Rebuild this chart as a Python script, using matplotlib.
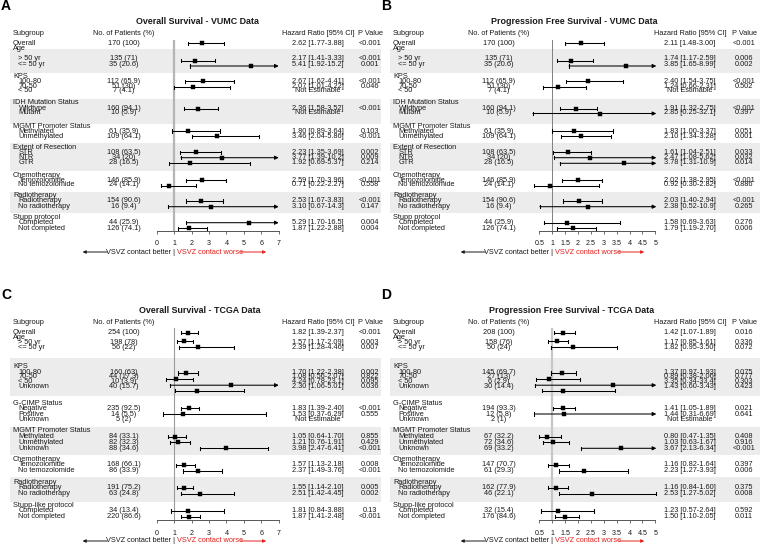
import numpy as np
import matplotlib
matplotlib.use("Agg")
import matplotlib.pyplot as plt
from matplotlib.patches import Rectangle

nan = np.nan

# ---------------- data ----------------
VUMC_groups = ["Overall", "Age", "KPS", "IDH Mutation Status", "MGMT Promoter Status",
               "Extent of Resection", "Chemotherapy", "Radiotherapy", "Stupp protocol"]
VUMC_subs = [[], ["> 50 yr", "<= 50 yr"], ["100-80", "70-50", "< 50"], ["Wildtype", "Mutant"],
             ["Methylated", "Unmethylated"], ["STR", "NTR", "GTR"],
             ["Temozolomide", "No temozolomide"], ["Radiotherapy", "No radiotherapy"],
             ["Completed", "Not completed"]]
VUMC_n = ["170 (100)", "135 (71)", "35 (20.6)", "112 (65.9)", "51 (30)", "7 (4.1)",
          "160 (94.1)", "10 (5.9)", "61 (35.9)", "109 (64.1)", "108 (63.5)", "34 (20)",
          "28 (16.5)", "146 (85.9)", "24 (14.1)", "154 (90.6)", "16 (9.4)", "44 (25.9)",
          "126 (74.1)"]

A_est = [2.62, 2.17, 5.41, 2.67, 2.07, nan, 2.36, nan, 1.80, 3.46, 2.23, 3.77, 1.92, 2.59, 0.71, 2.53, 3.10, 5.29, 1.87]
A_lo = [1.77, 1.41, 1.92, 1.62, 1.01, nan, 1.58, nan, 0.89, 2.04, 1.35, 1.39, 0.69, 1.70, 0.22, 1.67, 0.67, 1.70, 1.22]
A_hi = [3.88, 3.33, 15.2, 4.41, 4.22, nan, 3.52, nan, 3.64, 5.86, 3.69, 10.2, 5.37, 3.96, 2.27, 3.83, 14.3, 16.5, 2.88]
A_p = ["<0.001", "<0.001", "0.001", "<0.001", "0.046", "", "<0.001", "", "0.103", "<0.001",
       "0.002", "0.009", "0.214", "<0.001", "0.558", "<0.001", "0.147", "0.004", "0.004"]

B_est = [2.11, 1.74, 3.85, 2.40, 1.24, nan, 1.91, 2.85, 1.83, 2.10, 1.61, 2.47, 3.78, 2.02, 0.92, 2.03, 2.38, 1.58, 1.79]
B_lo = [1.48, 1.17, 1.65, 1.54, 0.66, nan, 1.32, 0.25, 1.00, 1.34, 1.04, 1.08, 1.31, 1.38, 0.30, 1.40, 0.52, 0.69, 1.19]
B_hi = [3.00, 2.59, 8.99, 3.75, 2.31, nan, 2.75, 32.1, 3.37, 3.28, 2.51, 5.62, 10.9, 2.95, 2.82, 2.94, 10.9, 3.63, 2.70]
B_p = ["<0.001", "0.006", "0.002", "<0.001", "0.502", "", "<0.001", "0.397", "0.051", "0.001",
       "0.033", "0.032", "0.014", "<0.001", "0.886", "<0.001", "0.265", "0.276", "0.006"]

TCGA_groups = ["Overall", "Age", "KPS", "G-CIMP Status", "MGMT Promoter Status",
               "Chemotherapy", "Radiotherapy", "Stupp-like protocol"]
TCGA_subs = [[], ["> 50 yr", "<= 50 yr"], ["100-80", "70-50", "< 50", "Unknown"],
             ["Negative", "Positive", "Unknown"], ["Methylated", "Unmethylated", "Unknown"],
             ["Temozolomide", "No temozolomide"], ["Radiotherapy", "No radiotherapy"],
             ["Completed", "Not completed"]]

C_n = ["254 (100)", "198 (78)", "56 (22)", "160 (63)", "44 (17.3)", "10 (3.9)", "40 (15.7)",
       "235 (92.5)", "14 (5.5)", "5 (2)", "84 (33.1)", "82 (32.3)", "88 (34.6)", "168 (66.1)",
       "86 (33.9)", "191 (75.2)", "63 (24.8)", "34 (13.4)", "220 (86.6)"]
C_est = [1.82, 1.57, 2.39, 1.70, 1.08, 4.24, 2.30, 1.83, 1.53, nan, 1.05, 1.21, 3.98, 1.57, 2.37, 1.55, 2.51, 1.81, 1.87]
C_lo = [1.39, 1.17, 1.28, 1.22, 0.56, 0.78, 1.06, 1.39, 0.37, nan, 0.64, 0.76, 2.47, 1.13, 1.49, 1.14, 1.42, 0.84, 1.41]
C_hi = [2.37, 2.09, 4.46, 2.38, 2.07, 23.1, 5.01, 2.40, 6.29, nan, 1.70, 1.91, 6.41, 2.18, 3.76, 2.10, 4.45, 3.88, 2.48]
C_p = ["<0.001", "0.003", "0.007", "0.002", "0.822", "0.095", "0.036", "<0.001", "0.555", "",
       "0.855", "0.429", "<0.001", "0.008", "<0.001", "0.005", "0.002", "0.13", "<0.001"]

D_n = ["208 (100)", "158 (76)", "50 (24)", "145 (69.7)", "27 (13)", "6 (2.9)", "30 (14.4)",
       "194 (93.3)", "12 (5.8)", "2 (1)", "67 (32.2)", "72 (34.6)", "69 (33.2)", "147 (70.7)",
       "61 (29.3)", "162 (77.9)", "46 (22.1)", "32 (15.4)", "176 (84.6)"]
D_est = [1.42, 1.17, 1.82, 1.37, 0.89, 3.35, 1.43, 1.41, 1.44, nan, 0.80, 1.03, 3.67, 1.16, 2.23, 1.16, 2.53, 1.23, 1.50]
D_lo = [1.07, 0.85, 0.95, 0.97, 0.38, 0.34, 0.60, 1.05, 0.31, nan, 0.47, 0.63, 2.13, 0.82, 1.27, 0.84, 1.27, 0.57, 1.10]
D_hi = [1.89, 1.61, 3.50, 1.93, 2.06, 33.4, 3.43, 1.89, 6.69, nan, 1.35, 1.67, 6.34, 1.64, 3.93, 1.60, 5.02, 2.64, 2.05]
D_p = ["0.016", "0.336", "0.072", "0.075", "0.777", "0.303", "0.423", "0.021", "0.641", "",
       "0.408", "0.916", "<0.001", "0.397", "0.006", "0.375", "0.008", "0.592", "0.011"]

A_ticks = [0, 1, 2, 3, 4, 5, 6, 7]
B_ticks = [0.5, 1, 1.5, 2, 2.5, 3, 3.5, 4, 4.5, 5]

# ---------------- layout (pixels) ----------------
LAY_VUMC = dict(
    letter_y=6, title_y=21, head_y=33.3, ref_top=40, axis_y=230.7, note_y=252,
    txt_y=[43.3, 59.0, 65.0, 81.3, 86.0, 90.5, 108.0, 112.7, 131.5, 136.3, 152.5, 157.5,
           162.7, 180.0, 184.5, 200.8, 206.5, 222.7, 228.3],
    ci_y=[43.3, 60.7, 66.0, 81.3, 87.3, 92.5, 108.7, 113.5, 131.0, 136.2, 152.3, 157.7,
          163.3, 180.2, 185.5, 201.0, 206.7, 222.7, 228.3],
    hdr_y=[None, 48.5, 76.5, 103, 127, 147.3, 175.7, 195.7, 217.3],
    bands=[(49, 72.7), (99.3, 124.3), (143.3, 171), (192.3, 213.3)])
LAY_TCGA = dict(
    letter_y=295.3, title_y=310.3, head_y=322, ref_top=327.5, axis_y=520, note_y=541,
    txt_y=[332.7, 342.5, 347.3, 372.0, 376.7, 381.3, 386.3, 408.3, 414.0, 419.3, 436.7, 442.3,
           448.3, 465.0, 471.0, 487.7, 493.7, 511.0, 516.7],
    ci_y=[332.7, 341.3, 347.3, 373.0, 379.2, 385.2, 390.6, 408.3, 414.0, 419.5, 436.7, 442.3,
          448.3, 465.3, 471.0, 487.7, 493.7, 511.0, 516.7],
    hdr_y=[None, 337.8, 367.0, 403.3, 431, 459.5, 482.3, 505.3],
    bands=[(358, 396), (427, 455), (476.7, 501.7)])

COL_A = dict(t0=0, p0=156.7, t1=7, p1=278.7, xmin=0, xmax=7, num_c=123.5, hr_c=318,
             p_c=370, title_c=197.5, ref_lw=1.6, ref_col="#b5b5b5")
COL_B = dict(t0=0.5, p0=159.3, t1=5, p1=275.3, xmin=0.25, xmax=5.04, num_c=118.5, hr_c=310,
             p_c=364, title_c=194, ref_lw=0.7, ref_col="#808080")
COL_C = dict(COL_A, ref_lw=0.8, ref_col="#9a9a9a", title_c=200)
COL_D = dict(COL_B, ref_lw=1.6, ref_col="#c6c6c6", title_c=192)

plt.rcParams['font.family'] = ['Liberation Sans', 'DejaVu Sans']
W, H = 760, 544
fig = plt.figure(figsize=(W / 100, H / 100), dpi=100)
bg = fig.add_axes([0, 0, 1, 1])
bg.set_xlim(0, W)
bg.set_ylim(H, 0)
bg.axis('off')

FS = 5.3
TXT = "#1a1a1a"
RED = "#e3211c"
BAND = "#ececec"


def fmt(v):
    return f"{v:.2f}" if v < 10 else f"{v:.1f}"


def draw_panel(x0, letter, title, groups, subs, n_txt, est, lo, hi, p_txt, ticks, L, S):
    ys = L['ci_y']
    ty = L['txt_y']
    for (a, b) in L['bands']:
        bg.add_patch(Rectangle((x0 + 10, a), 371, b - a, color=BAND, lw=0, zorder=0))
    bg.text(x0 + 1, L['letter_y'], letter, fontsize=10, fontweight='bold', ha='left', va='center')
    bg.text(x0 + S['title_c'], L['title_y'], title, fontsize=6.4, fontweight='bold',
            ha='center', va='center', color=TXT)
    hy = L['head_y']
    kw = dict(fontsize=FS, va='center', color=TXT)
    bg.text(x0 + 13, hy, "Subgroup", ha='left', **kw)
    bg.text(x0 + S['num_c'], hy, "No. of Patients (%)", ha='center', **kw)
    bg.text(x0 + S['hr_c'], hy, "Hazard Ratio [95% CI]", ha='center', **kw)
    bg.text(x0 + S['p_c'], hy, "P Value", ha='center', **kw)

    def row_text(r):
        y = ty[r]
        bg.text(x0 + S['num_c'], y, n_txt[r], ha='center', **kw)
        if np.isnan(est[r]):
            hr = "Not Estimable"
        else:
            hr = f"{fmt(est[r])} [{fmt(lo[r])}-{fmt(hi[r])}]"
        bg.text(x0 + S['hr_c'], y, hr, ha='center', **kw)
        bg.text(x0 + S['p_c'], y, p_txt[r], ha='center', **kw)

    r = 0
    for g, name in enumerate(groups):
        if not subs[g]:
            bg.text(x0 + 13, ty[r], name, ha='left', **kw)
            row_text(r)
            r += 1
        else:
            bg.text(x0 + 13, L['hdr_y'][g], name, ha='left', **kw)
            for s in subs[g]:
                bg.text(x0 + 18.5, ty[r], s, ha='left', **kw)
                row_text(r)
                r += 1

    # forest axes
    scale = (S['p1'] - S['p0']) / (S['t1'] - S['t0'])
    left = x0 + S['p0'] + (S['xmin'] - S['t0']) * scale
    right = x0 + S['p0'] + (S['xmax'] - S['t0']) * scale
    top, bot = L['ref_top'], L['axis_y']
    ax = fig.add_axes([left / W, 1 - bot / H, (right - left) / W, (bot - top) / H])
    ax.set_xlim(S['xmin'], S['xmax'])
    ax.set_ylim(bot, top)
    ax.patch.set_alpha(0)
    for sp in ['top', 'left', 'right']:
        ax.spines[sp].set_visible(False)
    ax.spines['bottom'].set_bounds(ticks[0], ticks[-1])
    ax.spines['bottom'].set_color('#555555')
    ax.spines['bottom'].set_linewidth(0.7)
    ax.set_yticks([])
    ax.set_xticks(ticks)
    ax.set_xticklabels([f"{t:g}" for t in ticks])
    ax.tick_params(axis='x', length=2.4, width=0.6, color='#555555', pad=4.6,
                   labelsize=5.1, labelcolor=TXT)
    ax.axvline(1, color=S['ref_col'], lw=S['ref_lw'], zorder=1)

    lw = 0.75
    for i in range(len(est)):
        if np.isnan(est[i]):
            continue
        y = ys[i]
        ax.plot([lo[i], lo[i]], [y - 1.6, y + 1.6], color='k', lw=lw, clip_on=False, zorder=3)
        if hi[i] > S['xmax']:
            ax.annotate("", xy=(S['xmax'], y), xytext=(lo[i], y),
                        arrowprops=dict(arrowstyle='-|>', mutation_scale=5.5, lw=lw,
                                        color='k', shrinkA=0, shrinkB=0),
                        annotation_clip=False, zorder=3)
        else:
            ax.plot([lo[i], hi[i]], [y, y], color='k', lw=lw, clip_on=False, zorder=3)
            ax.plot([hi[i], hi[i]], [y - 1.6, y + 1.6], color='k', lw=lw, clip_on=False, zorder=3)
        ax.plot([est[i]], [y], marker='s', ms=2.8, color='k', mec='k', mew=0.3,
                clip_on=False, zorder=4, ls='none')

    # direction note
    xr = x0 + S['p0'] + (1 - S['t0']) * scale
    ny = L['note_y']
    bg.text(xr + 1.2, ny, "VSVZ contact better |", ha='right', fontsize=FS, va='center', color=TXT)
    bg.text(xr + 3.3, ny, "VSVZ contact worse", ha='left', fontsize=FS, va='center', color=RED)
    bg.annotate("", xy=(xr - 91.5, ny), xytext=(xr - 67, ny),
                arrowprops=dict(arrowstyle='-|>', mutation_scale=4.5, lw=0.7, color=TXT,
                                shrinkA=0, shrinkB=0))
    bg.annotate("", xy=(xr + 92, ny), xytext=(xr + 66.5, ny),
                arrowprops=dict(arrowstyle='-|>', mutation_scale=4.5, lw=0.7, color=RED,
                                shrinkA=0, shrinkB=0))


draw_panel(0, "A", "Overall Survival - VUMC Data", VUMC_groups, VUMC_subs, VUMC_n,
           A_est, A_lo, A_hi, A_p, A_ticks, LAY_VUMC, COL_A)
draw_panel(380, "B", "Progression Free Survival - VUMC Data", VUMC_groups, VUMC_subs, VUMC_n,
           B_est, B_lo, B_hi, B_p, B_ticks, LAY_VUMC, COL_B)
draw_panel(0, "C", "Overall Survival - TCGA Data", TCGA_groups, TCGA_subs, C_n,
           C_est, C_lo, C_hi, C_p, A_ticks, LAY_TCGA, COL_C)
draw_panel(380, "D", "Progression Free Survival - TCGA Data", TCGA_groups, TCGA_subs, D_n,
           D_est, D_lo, D_hi, D_p, B_ticks, LAY_TCGA, COL_D)

fig.savefig("out.png", dpi=100)
